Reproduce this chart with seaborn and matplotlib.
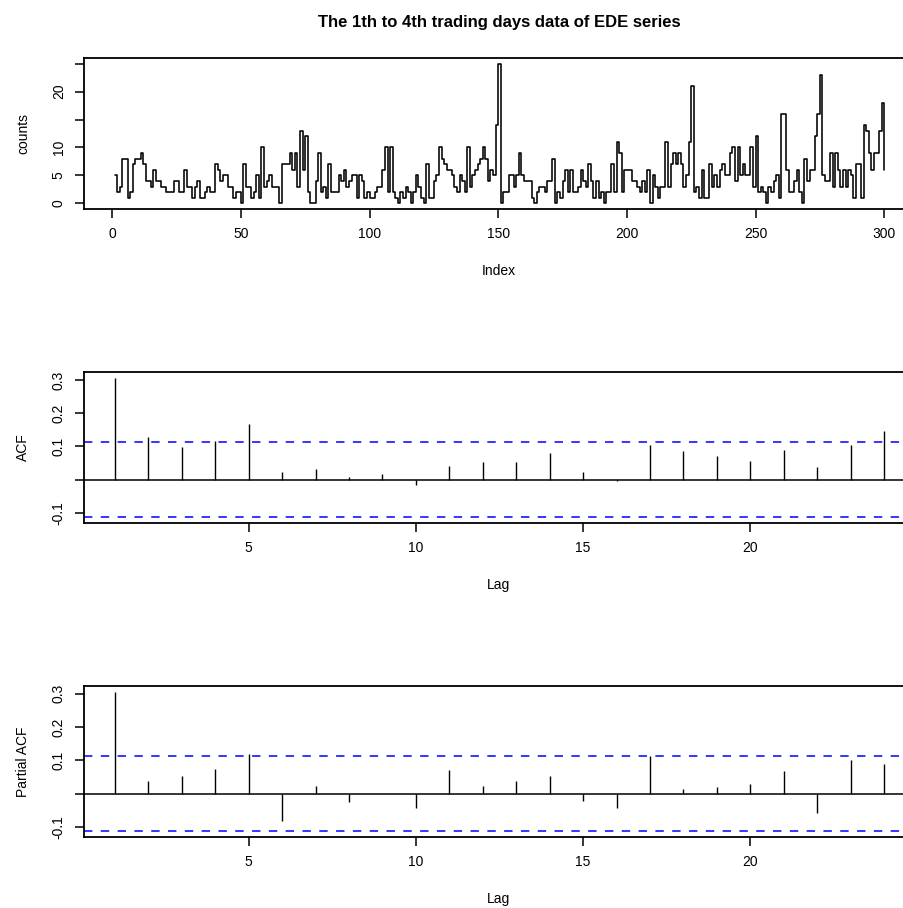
import numpy as np
import pandas as pd
import matplotlib
matplotlib.use("Agg")
import matplotlib.pyplot as plt
import seaborn as sns

# ---------------- data ----------------
counts_1_50 = [5, 2, 3, 8, 8, 1, 2, 7, 8, 8, 9, 7, 4, 4, 3, 6, 4, 4, 3, 3,
               2, 2, 2, 4, 4, 2, 2, 6, 3, 3, 1, 3, 4, 1, 1, 2, 3, 2, 2, 7,
               6, 4, 5, 5, 3, 3, 1, 2, 2, 0]
counts_51_100 = [7, 3, 3, 1, 2, 5, 1, 10, 3, 4, 5, 3, 3, 3, 0, 7, 7, 7, 9, 6,
                 9, 3, 13, 6, 12, 2, 0, 0, 4, 9, 2, 3, 1, 7, 2, 2, 2, 5, 4, 6,
                 3, 4, 5, 5, 1, 5, 4, 1, 2, 1]
counts_101_150 = [1, 2, 3, 3, 6, 10, 2, 10, 2, 1, 0, 2, 1, 3, 2, 0, 2, 5, 3, 1,
                  0, 7, 1, 1, 4, 5, 10, 8, 7, 6, 6, 5, 3, 2, 5, 4, 2, 10, 3, 5,
                  6, 7, 8, 10, 8, 4, 6, 5, 14, 25]
counts_151_200 = [0, 2, 2, 5, 5, 3, 5, 9, 5, 4, 4, 4, 1, 0, 2, 3, 3, 2, 4, 4,
                  8, 0, 2, 1, 4, 6, 2, 6, 2, 2, 3, 6, 4, 3, 7, 4, 1, 4, 1, 2,
                  0, 2, 2, 7, 2, 11, 9, 2, 6, 6]
counts_201_250 = [6, 4, 4, 3, 2, 4, 2, 6, 0, 5, 3, 1, 3, 3, 11, 3, 7, 9, 7, 9,
                  7, 3, 5, 11, 21, 2, 3, 1, 6, 1, 1, 7, 3, 5, 3, 6, 7, 5, 5, 9,
                  10, 4, 10, 5, 7, 5, 5, 10, 3, 12]
counts_251_300 = [2, 3, 2, 0, 3, 2, 4, 5, 1, 16, 16, 6, 2, 2, 4, 6, 2, 0, 8, 4,
                  6, 6, 12, 16, 23, 5, 4, 4, 9, 3, 9, 6, 3, 6, 3, 6, 5, 1, 7, 7,
                  1, 14, 13, 9, 6, 9, 9, 13, 18, 6]
counts = (counts_1_50 + counts_51_100 + counts_101_150 + counts_151_200
          + counts_201_250 + counts_251_300)
index = list(range(1, len(counts) + 1))

lags = list(range(1, 25))
acf_vals = [0.307, 0.129, 0.099, 0.115, 0.168, 0.024, 0.031, 0.008, 0.016, -0.015,
            0.041, 0.052, 0.053, 0.079, 0.023, -0.003, 0.103, 0.086, 0.072, 0.057,
            0.089, 0.038, 0.105, 0.148]
pacf_vals = [0.306, 0.038, 0.054, 0.074, 0.118, -0.081, 0.022, -0.026, -0.001, -0.042,
             0.072, 0.022, 0.037, 0.054, -0.022, -0.042, 0.112, 0.015, 0.021, 0.028,
             0.068, -0.058, 0.102, 0.090]
conf_limit = 1.96 / np.sqrt(len(counts))

title = "The 1th to 4th trading days data of EDE series"

# ---------------- style ----------------
sns.set_style("ticks")
plt.rcParams['font.family'] = ['Liberation Sans', 'DejaVu Sans']
plt.rcParams['axes.linewidth'] = 1.3
plt.rcParams['axes.edgecolor'] = 'black'
plt.rcParams['text.color'] = 'black'
plt.rcParams['axes.labelcolor'] = 'black'
plt.rcParams['xtick.color'] = 'black'
plt.rcParams['ytick.color'] = 'black'

W, H = 904, 908
fig = plt.figure(figsize=(W / 100, H / 100), dpi=100)

LEFT, RIGHT = 84.0, 915.0


def make_ax(top_px, bottom_px):
    return fig.add_axes([LEFT / W, 1 - bottom_px / H, (RIGHT - LEFT) / W,
                         (bottom_px - top_px) / H])


def style_ax(ax):
    for s in ax.spines.values():
        s.set_visible(True)
        s.set_color('black')
        s.set_linewidth(1.3)
    ax.tick_params(axis='both', direction='out', length=6.6, width=1.1,
                   color='black', labelsize=10, pad=6.5, labelcolor='black')
    for lab in ax.get_yticklabels():
        lab.set_rotation(90)
        lab.set_va('center')
        lab.set_ha('right')
    ax.grid(False)
    ax.set_xlabel('')
    ax.set_ylabel('')


# ---- top panel: series ----
ax1 = make_ax(58, 209)
df = pd.DataFrame({'Index': index, 'counts': counts})
sns.lineplot(data=df, x='Index', y='counts', ax=ax1, color='black',
             linewidth=1.15, drawstyle='steps-post', sort=False,
             estimator=None)
n = len(counts)
ax1.set_xlim(1 - 0.04 * (n - 1), n + 0.04 * (n - 1))
ax1.set_ylim(-0.04 * max(counts), max(counts) * 1.04)
ax1.set_xticks([0, 50, 100, 150, 200, 250, 300])
ax1.set_yticks([0, 5, 10, 15, 20, 25])
ax1.set_yticklabels(['0', '5', '10', '', '20', ''])
style_ax(ax1)


def corr_panel(top_px, bottom_px, vals):
    ax = make_ax(top_px, bottom_px)
    ax.vlines(lags, 0, vals, color='black', linewidth=1.0)
    ax.axhline(0, color='black', linewidth=1.1)
    for c in (conf_limit, -conf_limit):
        ax.axhline(c, color='#0000ff', linewidth=1.1, linestyle=(0, (5.5, 5.5)))
    lo = min(min(vals), -conf_limit)
    hi = max(max(vals), conf_limit)
    r = hi - lo
    ax.set_ylim(lo - 0.04 * r, hi + 0.04 * r)
    L = len(lags)
    ax.set_xlim(1 - 0.04 * (L - 1), L + 0.04 * (L - 1))
    ax.set_xticks([5, 10, 15, 20])
    ax.set_yticks([-0.1, 0.0, 0.1, 0.2, 0.3])
    ax.set_yticklabels(['-0.1', '', '0.1', '0.2', '0.3'])
    style_ax(ax)
    return ax


ax2 = corr_panel(372, 523, acf_vals)
ax3 = corr_panel(686, 837, pacf_vals)

# ---- texts ----
cx = 499 / W
fig.text(cx, 1 - 22 / H, title, ha='center', va='center', fontsize=12,
         fontweight='bold', color='black')
fig.text(cx, 1 - 271 / H, 'Index', ha='center', va='center', fontsize=10)
fig.text(cx, 1 - 585 / H, 'Lag', ha='center', va='center', fontsize=10)
fig.text(cx, 1 - 899 / H, 'Lag', ha='center', va='center', fontsize=10)
fig.text(23 / W, 1 - 133.5 / H, 'counts', ha='center', va='center',
         fontsize=10, rotation=90)
fig.text(23 / W, 1 - 447.5 / H, 'ACF', ha='center', va='center',
         fontsize=10, rotation=90)
fig.text(23 / W, 1 - 761.5 / H, 'Partial ACF', ha='center', va='center',
         fontsize=10, rotation=90)

fig.savefig('out.png', dpi=100, facecolor='white')
